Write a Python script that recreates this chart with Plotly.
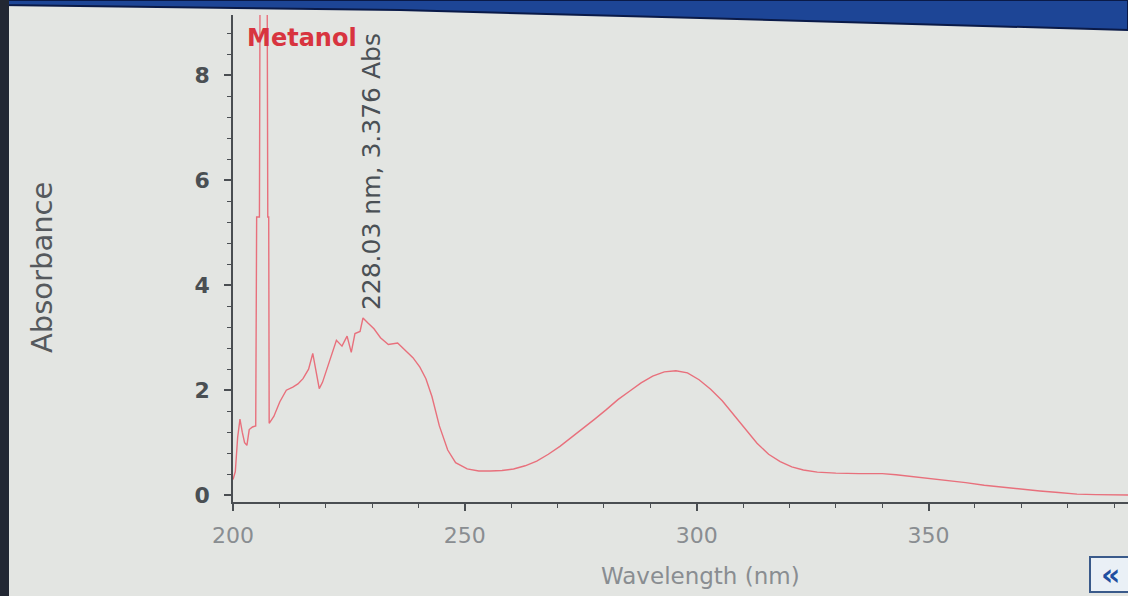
import plotly.graph_objects as go

# Data (wavelength in nm, absorbance)
wavelength = [200.0, 200.5, 201.0, 201.5, 202.0, 202.5, 203.0, 203.5, 204.2, 204.9,
              205.1, 205.7, 205.9, 207.3, 207.5, 207.7, 207.8, 208.8,
              210.1, 211.5, 212.9, 214.0, 215.1, 216.3, 217.2, 218.6, 219.3, 220.2,
              221.3, 222.3, 223.5, 224.6, 225.5, 226.3, 227.4, 228.03, 229.1, 230.4,
              231.8, 233.5, 235.5, 237.4, 238.8, 240.3, 241.6, 242.9, 244.5, 246.3,
              248.0, 250.5, 253.0, 255.5, 258.0, 260.5, 263.0, 265.5, 268.0, 270.5,
              273.0, 275.5, 278.0, 280.5, 283.0, 285.5, 288.0, 290.5, 293.0, 295.5,
              298.0, 300.5, 303.0, 305.5, 308.0, 310.5, 313.0, 315.5, 318.0, 320.5,
              323.0, 326.0, 330.0, 335.0, 340.0, 343.0, 346.0, 350.0, 354.0, 358.0,
              362.0, 366.0, 370.0, 374.0, 378.0, 382.0, 386.0, 390.0, 395.0]
absorbance = [0.30, 0.45, 1.10, 1.45, 1.20, 1.00, 0.95, 1.25, 1.30, 1.32,
              5.30, 5.30, 12.0, 12.0, 5.30, 5.30, 1.37, 1.50,
              1.78, 2.00, 2.06, 2.12, 2.22, 2.40, 2.70, 2.03, 2.15, 2.38,
              2.70, 2.95, 2.84, 3.03, 2.72, 3.08, 3.12, 3.376, 3.28, 3.17,
              3.00, 2.87, 2.90, 2.74, 2.62, 2.44, 2.22, 1.88, 1.32, 0.86,
              0.62, 0.50, 0.46, 0.46, 0.47, 0.50, 0.56, 0.65, 0.78, 0.93,
              1.10, 1.27, 1.45, 1.63, 1.82, 1.98, 2.14, 2.27, 2.35, 2.37,
              2.33, 2.20, 2.02, 1.80, 1.53, 1.25, 0.99, 0.78, 0.64, 0.54,
              0.48, 0.44, 0.42, 0.41, 0.41, 0.39, 0.36, 0.33, 0.29, 0.24,
              0.19, 0.15, 0.11, 0.08, 0.05, 0.02, 0.01, 0.00, 0.00]

series_name = "Metanol"
peak_wl = 228.03
peak_abs = 3.376
peak_label = f"{peak_wl:.2f} nm, {peak_abs:.3f} Abs"

y_ticks = [0, 2, 4, 6, 8]
x_ticks = [200, 250, 300, 350]

BG = "#e3e5e2"
AXIS = "#4a4e52"
FONT = "DejaVu Sans"

fig = go.Figure()
fig.add_trace(go.Scatter(
    x=wavelength, y=absorbance, mode="lines", name=series_name,
    line=dict(color="#e8707c", width=1.4), showlegend=False,
))

W, H = 1128, 596
L, R, T, B = 233, 0, 15, 94
pw, ph = W - L - R, H - T - B


def px(x):
    return (x - L) / pw


def py(y):
    return (H - B - y) / ph


fig.update_layout(
    width=W, height=H,
    margin=dict(l=L, r=R, t=T, b=B),
    paper_bgcolor=BG, plot_bgcolor=BG,
    font=dict(family=FONT),
    xaxis=dict(
        range=[200, 393], tickvals=x_ticks, ticktext=[str(v) for v in x_ticks],
        showgrid=False, zeroline=False, showline=True, linecolor=AXIS, linewidth=1.5,
        ticks="outside", ticklen=7, tickwidth=1.5, tickcolor=AXIS,
        minor=dict(dtick=10, tick0=200, ticks="outside", ticklen=4, tickcolor=AXIS, tickwidth=1.2),
        tickfont=dict(family=FONT, size=22, color="#898d91"),
        ticklabelstandoff=6,
    ),
    yaxis=dict(
        range=[-0.13, 9.15], tickvals=y_ticks, ticktext=[str(v) for v in y_ticks],
        showgrid=False, zeroline=False, showline=True, linecolor=AXIS, linewidth=1.5,
        ticks="outside", ticklen=7, tickwidth=1.5, tickcolor=AXIS,
        minor=dict(dtick=0.4, tick0=0, ticks="outside", ticklen=4, tickcolor=AXIS, tickwidth=1.2),
        tickfont=dict(family=FONT, size=22, color="#4a4f53", weight="bold"),
        ticklabelstandoff=10,
    ),
)

annotations = [
    dict(text=series_name, xref="paper", yref="paper", x=px(245), y=py(38),
         xanchor="left", yanchor="middle", showarrow=False,
         font=dict(family=FONT, size=24, color="#d8343f", weight="bold")),
    dict(text=peak_label, xref="x", yref="paper", x=230.0, y=py(172),
         xanchor="center", yanchor="middle", textangle=-90, showarrow=False,
         font=dict(family=FONT, size=25, color="#4a5055")),
    dict(text="Absorbance", xref="paper", yref="paper", x=px(42), y=py(268),
         xanchor="center", yanchor="middle", textangle=-90, showarrow=False,
         font=dict(family=FONT, size=29, color="#55595d")),
    dict(text="Wavelength (nm)", xref="paper", yref="paper", x=px(700), y=py(576),
         xanchor="center", yanchor="middle", showarrow=False,
         font=dict(family=FONT, size=23, color="#898d91")),
    dict(text="«", xref="paper", yref="paper", x=px(1110), y=py(574),
         xanchor="center", yanchor="middle", showarrow=False,
         font=dict(family=FONT, size=30, color="#1f4fa0", weight="bold")),
]
fig.update_layout(annotations=annotations)

top_band = (f"M {px(0)},{py(0)} L {px(1128)},{py(0)} L {px(1128)},{py(30)} "
            f"L {px(700)},{py(18)} L {px(400)},{py(10)} L {px(0)},{py(5)} Z")
shapes = [
    dict(type="path", path=top_band, xref="paper", yref="paper",
         fillcolor="#1d4596", line=dict(color="#0a1a48", width=2), layer="above"),
    dict(type="rect", xref="paper", yref="paper", x0=px(0), x1=px(9), y0=py(596), y1=py(0),
         fillcolor="#222733", line=dict(width=0), layer="above"),
    dict(type="rect", xref="paper", yref="paper", x0=px(1090), x1=px(1132), y0=py(592), y1=py(557),
         fillcolor="#eaf0f6", line=dict(color="#3a5a8a", width=2), layer="above"),
]
fig.update_layout(shapes=shapes)

fig.write_html(
    "out.html",
    config={"displayModeBar": False},
    post_script="document.body.style.margin='0';document.body.style.padding='0';"
                "document.body.style.overflow='hidden';",
)
